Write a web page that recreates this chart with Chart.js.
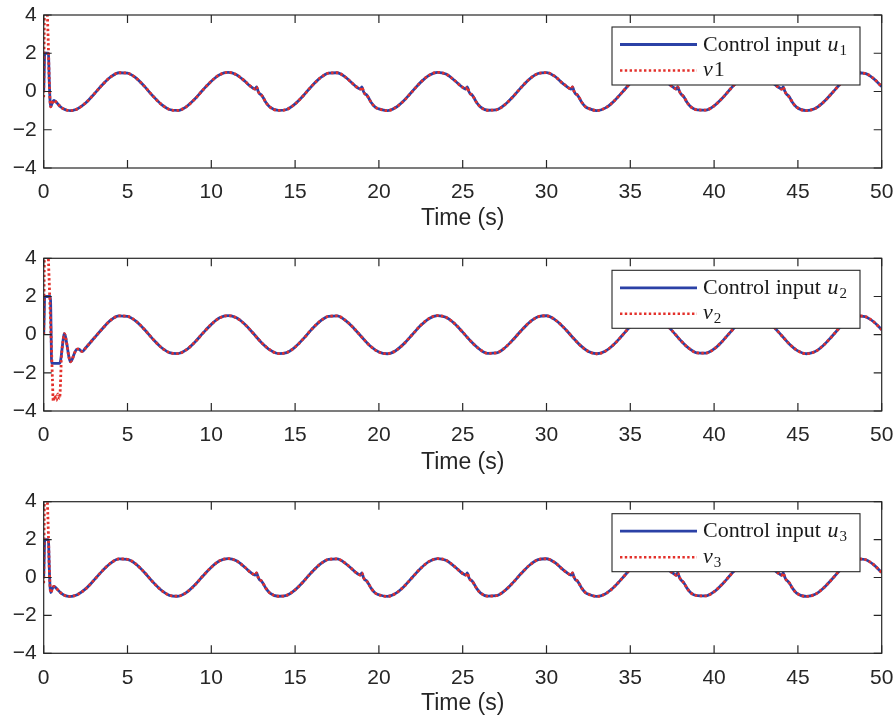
<!DOCTYPE html>
<html>
<head>
<meta charset="utf-8">
<script src="https://cdn.jsdelivr.net/npm/chart.js@4.4.1/dist/chart.umd.min.js"></script>
<style>
  body { margin: 0; background: #fff; }
  .panel { position: absolute; left: 0; width: 896px; }
</style>
</head>
<body>
<div class="panel" style="top:0;height:240px"><canvas id="c1" width="896" height="240"></canvas></div>
<div class="panel" style="top:240px;height:240px"><canvas id="c2" width="896" height="240"></canvas></div>
<div class="panel" style="top:480px;height:242px"><canvas id="c3" width="896" height="242"></canvas></div>
<script>
// tick labels
const xTicks = [0, 5, 10, 15, 20, 25, 30, 35, 40, 45, 50];
const yTicks = [-4, -2, 0, 2, 4];

// panel 1 (and 3): time stamps and control input
const t1 = [
    0, 0.03, 0.06, 0.12, 0.18, 0.24, 0.28, 0.33, 0.38, 0.42,
    0.5, 0.6, 0.7, 0.85, 1.0, 1.2, 1.4, 1.6, 1.8, 2.0,
    2.5, 3.0, 3.5, 4.0, 4.5, 5.0, 5.5, 6.0, 6.5, 7.0,
    7.5, 8.0, 8.5, 9.0, 9.5, 10.0, 10.5, 11.0, 11.5, 12.0,
    12.3, 12.5, 12.62, 12.7, 12.8, 12.88, 12.98, 13.1, 13.25, 13.5,
    14.0, 14.5, 15.0, 15.5, 16.0, 16.5, 17.0, 17.5, 18.0,
    18.58, 18.78, 18.9, 18.98, 19.08, 19.16, 19.26, 19.38, 19.53, 19.78,
    20.0, 20.5, 21.0, 21.5, 22.0, 22.5, 23.0, 23.5, 24.0, 24.5,
    24.87, 25.07, 25.19, 25.27, 25.37, 25.45, 25.55, 25.67, 25.82, 26.07,
    26.5, 27.0, 27.5, 28.0, 28.5, 29.0, 29.5, 30.0, 30.5, 31.0,
    31.15, 31.35, 31.47, 31.55, 31.65, 31.73, 31.83, 31.95, 32.1, 32.35,
    32.5, 33.0, 33.5, 34.0, 34.5, 35.0, 35.5, 36.0, 36.5, 37.0,
    37.43, 37.63, 37.75, 37.83, 37.93, 38.01, 38.11, 38.23, 38.38, 38.63,
    39.0, 39.5, 40.0, 40.5, 41.0, 41.5, 42.0, 42.5, 43.0, 43.5,
    43.72, 43.92, 44.04, 44.12, 44.22, 44.3, 44.4, 44.52, 44.67, 44.92,
    45.5, 46.0, 46.5, 47.0, 47.5, 48.0, 48.5, 49.0, 49.5, 50.0
];
const u1 = [
    0, 1.0, 2.0, 2.0, 2.0, 2.0, 2.0, 0.6, -0.5, -0.8,
    -0.62, -0.47, -0.52, -0.66, -0.8, -0.92, -0.98, -1.0, -0.97, -0.91,
    -0.60, -0.14, 0.35, 0.76, 0.98, 0.96, 0.71, 0.28, -0.22, -0.66,
    -0.94, -0.99, -0.80, -0.41, 0.08, 0.54, 0.88, 1.00, 0.88, 0.54,
    0.30, 0.17, 0.13, 0.24, 0.00, -0.12, -0.17, -0.33, -0.56, -0.82,
    -0.99, -0.94, -0.65, -0.21, 0.29, 0.71, 0.96, 0.98, 0.75,
    0.30, 0.17, 0.13, 0.24, 0.00, -0.12, -0.17, -0.33, -0.56, -0.82,
    -0.91, -1.00, -0.84, -0.47, 0.01, 0.49, 0.85, 1.00, 0.91, 0.59,
    0.30, 0.17, 0.13, 0.24, 0.00, -0.12, -0.17, -0.33, -0.56, -0.82,
    -0.98, -0.96, -0.70, -0.27, 0.22, 0.66, 0.94, 0.99, 0.79, 0.40,
    0.30, 0.17, 0.13, 0.24, 0.00, -0.12, -0.17, -0.33, -0.56, -0.82,
    -0.88, -1.00, -0.87, -0.53, -0.06, 0.43, 0.81, 0.99, 0.93, 0.64,
    0.30, 0.18, 0.12, 0.24, 0.02, -0.12, -0.20, -0.33, -0.56, -0.82,
    -0.96, -0.97, -0.75, -0.34, 0.16, 0.61, 0.92, 1.00, 0.83, 0.46,
    0.30, 0.18, 0.12, 0.24, 0.02, -0.12, -0.20, -0.33, -0.56, -0.82,
    -1.00, -0.90, -0.58, -0.12, 0.37, 0.77, 0.98, 0.95, 0.69, 0.26
];
// v1 differs from u1 only at the start (first 10 samples)
const v1Start = [-0.3, 3.0, 5.5, 6.0, 5.0, 3.5, 2.3, 0.6, -0.5, -0.8];

// panel 2
const t2 = [
    0, 0.03, 0.06, 0.12, 0.2, 0.26, 0.32, 0.4, 0.44, 0.47,
    0.52, 0.57, 0.65, 0.75, 0.85, 0.95, 1.0, 1.05, 1.12, 1.18,
    1.23, 1.3, 1.4, 1.5, 1.6, 1.7, 1.8, 1.9, 2.0, 2.1,
    2.2, 2.3, 2.5, 3.0, 3.5, 4.0,
    4.5, 5.0, 5.5, 6.0, 6.5, 7.0, 7.5, 8.0, 8.5, 9.0,
    9.5, 10.0, 10.5, 11.0, 11.5, 12.0, 12.5, 13.0, 13.5, 14.0,
    14.5, 15.0, 15.5, 16.0, 16.5, 17.0, 17.5, 18.0, 18.5, 19.0,
    19.5, 20.0, 20.5, 21.0, 21.5, 22.0, 22.5, 23.0, 23.5, 24.0,
    24.5, 25.0, 25.5, 26.0, 26.5, 27.0, 27.5, 28.0, 28.5, 29.0,
    29.5, 30.0, 30.5, 31.0, 31.5, 32.0, 32.5, 33.0, 33.5, 34.0,
    34.5, 35.0, 35.5, 36.0, 36.5, 37.0, 37.5, 38.0, 38.5, 39.0,
    39.5, 40.0, 40.5, 41.0, 41.5, 42.0, 42.5, 43.0, 43.5, 44.0,
    44.5, 45.0, 45.5, 46.0, 46.5, 47.0, 47.5, 48.0, 48.5, 49.0,
    49.5, 50.0
];
const u2 = [
    0, 1.0, 2.0, 2.0, 2.0, 2.0, 2.0, 2.0, 0.3, -1.5,
    -1.5, -1.5, -1.5, -1.5, -1.5, -1.5, -1.4, -1.1, -0.55, -0.15,
    0.05, -0.1, -0.6, -1.15, -1.42, -1.3, -1.05, -0.85, -0.76, -0.76,
    -0.84, -0.88, -0.70, -0.19, 0.31, 0.76,
    0.98, 0.96, 0.71, 0.28, -0.22, -0.66, -0.94, -0.99, -0.80, -0.41,
    0.08, 0.54, 0.88, 1.00, 0.88, 0.54, 0.07, -0.42, -0.80, -0.99,
    -0.94, -0.65, -0.21, 0.29, 0.71, 0.96, 0.98, 0.75, 0.34, -0.15,
    -0.61, -0.91, -1.00, -0.84, -0.47, 0.01, 0.49, 0.85, 1.00, 0.91,
    0.59, 0.13, -0.36, -0.76, -0.98, -0.96, -0.70, -0.27, 0.22, 0.66,
    0.94, 0.99, 0.79, 0.40, -0.08, -0.55, -0.88, -1.00, -0.87, -0.53,
    -0.06, 0.43, 0.81, 0.99, 0.93, 0.64, 0.20, -0.30, -0.72, -0.96,
    -0.97, -0.75, -0.34, 0.16, 0.61, 0.92, 1.00, 0.83, 0.46, -0.02,
    -0.50, -0.85, -1.00, -0.90, -0.58, -0.12, 0.37, 0.77, 0.98, 0.95,
    0.69, 0.26
];
const v2Start = [0, 3.0, 5.5, 6.5, 6.0, 4.5, 3.0, 0.9, -0.1, -0.9,
    -2.3, -3.5, -3.2, -3.45, -3.1, -3.35, -2.6, -1.3, -0.55, -0.15];

const v1 = v1Start.concat(u1.slice(v1Start.length));
const v2 = v2Start.concat(u2.slice(v2Start.length));
// panel 3 reads the same as panel 1
const t3 = t1, u3 = u1, v3 = v1;

const BLUE = '#2b41a6';
const RED = '#e3302b';
const AXIS = '#262626';

function pts(t, y) {
    return t.map((x, i) => ({ x: x, y: y[i] }));
}

// box, inward ticks and legend, drawn over the traces
const framePlugin = {
    id: 'frame',
    afterDraw(chart) {
        const { ctx, chartArea: a, scales: { x, y } } = chart;
        const o = chart.options.plugins.frame;
        ctx.save();
        ctx.strokeStyle = AXIS;
        ctx.lineWidth = 1.2;
        ctx.setLineDash([]);
        ctx.strokeRect(a.left, a.top, a.width, a.height);
        ctx.beginPath();
        xTicks.forEach(v => {
            const px = x.getPixelForValue(v);
            ctx.moveTo(px, a.bottom); ctx.lineTo(px, a.bottom - 8);
            ctx.moveTo(px, a.top); ctx.lineTo(px, a.top + 8);
        });
        yTicks.forEach(v => {
            const py = y.getPixelForValue(v);
            ctx.moveTo(a.left, py); ctx.lineTo(a.left + 8, py);
            ctx.moveTo(a.right, py); ctx.lineTo(a.right - 8, py);
        });
        ctx.stroke();

        // legend
        const L = 612, R = 860, T = a.top + 12, H = 58;
        ctx.fillStyle = '#fff';
        ctx.fillRect(L, T, R - L, H);
        ctx.lineWidth = 1.1;
        ctx.strokeRect(L, T, R - L, H);

        ctx.lineWidth = 2.8;
        ctx.strokeStyle = BLUE;
        ctx.beginPath(); ctx.moveTo(620, T + 17.5); ctx.lineTo(697, T + 17.5); ctx.stroke();
        ctx.strokeStyle = RED;
        ctx.lineWidth = 2.6;
        ctx.setLineDash([2.4, 2.4]);
        ctx.beginPath(); ctx.moveTo(620, T + 43.5); ctx.lineTo(697, T + 43.5); ctx.stroke();
        ctx.setLineDash([]);

        ctx.fillStyle = '#1a1a1a';
        ctx.textBaseline = 'alphabetic';
        ctx.textAlign = 'left';
        const b1 = T + 23.5, b2 = T + 49;
        let px = 703;
        ctx.font = '22px "Liberation Serif"';
        ctx.fillText('Control input ', px, b1);
        px += ctx.measureText('Control input ').width + 1;
        ctx.font = 'italic 22px "Liberation Serif"';
        ctx.fillText('u', px, b1);
        px += ctx.measureText('u').width + 1;
        ctx.font = '15px "Liberation Serif"';
        ctx.fillText(o.sub, px, b1 + 4);

        px = 703;
        ctx.font = 'italic 22px "Liberation Serif"';
        ctx.fillText('v', px, b2);
        px += ctx.measureText('v').width + 1;
        if (o.vSubscript) {
            ctx.font = '15px "Liberation Serif"';
            ctx.fillText(o.sub, px, b2 + 4);
        } else {
            ctx.font = '22px "Liberation Serif"';
            ctx.fillText(o.sub, px, b2);
        }
        ctx.restore();
    }
};

function makePanel(id, t, u, v, cfg) {
    new Chart(document.getElementById(id), {
        type: 'line',
        data: {
            datasets: [
                { data: pts(t, u), borderColor: BLUE, borderWidth: 2.8, pointRadius: 0,
                  cubicInterpolationMode: 'monotone', order: 1 },
                { data: pts(t, v), borderColor: RED, borderWidth: 2.8, borderDash: [2.4, 2.4],
                  pointRadius: 0, cubicInterpolationMode: 'monotone', order: 0 }
            ]
        },
        options: {
            responsive: false,
            animation: false,
            layout: { padding: { top: cfg.top, right: 14.3, left: 0, bottom: 0 } },
            plugins: {
                legend: { display: false },
                tooltip: { enabled: false },
                frame: { sub: cfg.sub, vSubscript: cfg.vSubscript }
            },
            scales: {
                x: {
                    type: 'linear', min: 0, max: 50,
                    afterBuildTicks: s => { s.ticks = xTicks.map(val => ({ value: val })); },
                    afterFit: s => { s.height = cfg.xHeight; s.paddingLeft = 0; s.paddingRight = 0; },
                    grid: { display: false, drawTicks: false },
                    border: { display: false },
                    ticks: { color: AXIS, padding: 12, font: { family: 'Liberation Sans', size: 21 } },
                    title: {
                        display: true, text: 'Time (s)', color: AXIS,
                        font: { family: 'Liberation Sans', size: 23 },
                        padding: { top: 0, bottom: cfg.titlePad }
                    }
                },
                y: {
                    min: -4, max: 4,
                    afterBuildTicks: s => { s.ticks = yTicks.map(val => ({ value: val })); },
                    afterFit: s => { s.width = 43.7; s.paddingTop = 0; s.paddingBottom = 0; },
                    grid: { display: false, drawTicks: false },
                    border: { display: false },
                    ticks: {
                        color: AXIS, padding: 7, font: { family: 'Liberation Sans', size: 21 },
                        callback: val => String(val).replace('-', '\u2212')
                    }
                }
            }
        },
        plugins: [framePlugin]
    });
}

makePanel('c1', t1, u1, v1, { top: 15, xHeight: 72, titlePad: 7.2, sub: '1', vSubscript: false });
makePanel('c2', t2, u2, v2, { top: 18.3, xHeight: 69, titlePad: 3.2, sub: '2', vSubscript: true });
makePanel('c3', t3, u3, v3, { top: 21.7, xHeight: 68.7, titlePad: 4.2, sub: '3', vSubscript: true });
</script>
</body>
</html>
